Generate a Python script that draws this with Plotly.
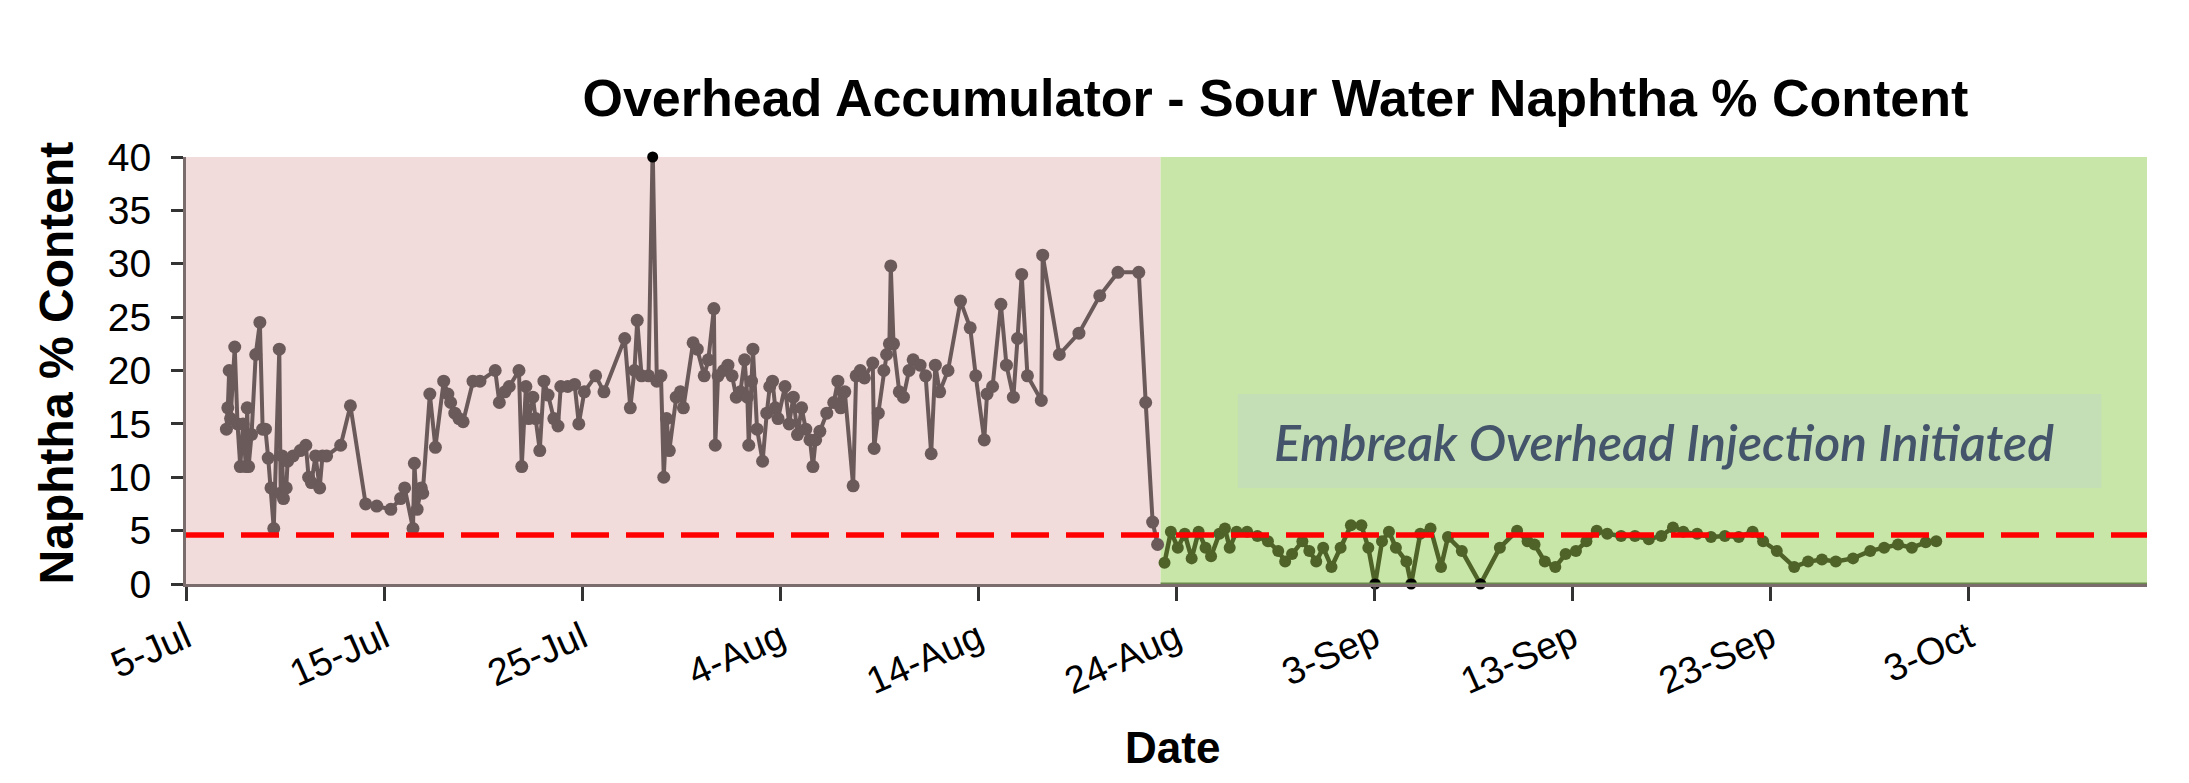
import pandas as pd
import plotly.graph_objects as go

# sample times are stored as days after 5-Jul
start = pd.Timestamp("2019-07-05")

pre_day = [2.04, 2.11, 2.18, 2.25, 2.46, 2.60, 2.74, 2.88, 3.02, 3.09, 3.16, 3.31, 3.52, 3.73, 3.87,
           4.01, 4.15, 4.29, 4.43, 4.71, 4.78, 4.85, 4.92, 5.06, 5.13, 5.41, 5.77, 6.05, 6.19, 6.33,
           6.54, 6.75, 6.89, 7.10, 7.81, 8.30, 9.07, 9.63, 10.34, 10.83, 11.04, 11.46, 11.53, 11.67,
           11.88, 11.95, 12.31, 12.59, 13.01, 13.22, 13.36, 13.57, 13.78, 13.99, 14.49, 14.84, 15.61,
           15.82, 16.10, 16.32, 16.81, 16.95, 17.16, 17.30, 17.51, 17.65, 17.86, 18.07, 18.28, 18.57,
           18.78, 18.92, 19.27, 19.62, 19.83, 20.11, 20.68, 21.10, 22.15, 22.43, 22.64, 22.78, 23.00,
           23.35, 23.56, 23.77, 23.98, 24.12, 24.26, 24.40, 24.75, 24.96, 25.11, 25.60, 25.81, 26.16,
           26.37, 26.65, 26.72, 26.86, 27.14, 27.36, 27.57, 27.78, 27.99, 28.20, 28.34, 28.41, 28.55,
           28.62, 28.83, 29.11, 29.32, 29.47, 29.61, 29.75, 29.89, 30.24, 30.45, 30.66, 30.87, 31.08,
           31.29, 31.50, 31.65, 31.79, 32.00, 32.35, 32.70, 32.91, 33.05, 33.26, 33.68, 33.83, 34.04,
           34.25, 34.67, 34.74, 34.95, 35.23, 35.37, 35.51, 35.58, 35.72, 36.01, 36.22, 36.50, 36.71,
           37.06, 37.34, 37.62, 37.83, 38.05, 38.47, 39.10, 39.59, 39.87, 40.30, 40.44, 40.72, 41.14,
           41.42, 41.77, 41.98, 42.19, 42.48, 43.18, 43.25, 44.09, 45.08, 46.13, 47.05, 48.10, 48.45,
           48.80, 49.05]
pre_val = [14.5, 16.5, 20, 15.5, 22.2, 15, 11, 15, 11, 16.5, 11, 14, 21.5, 24.5, 14.5,
           14.5, 11.8, 9, 5.2, 22, 8.5, 12, 8, 9, 11.5, 12, 12.5, 13, 10, 9.5,
           12, 9, 12, 12, 13, 16.7, 7.5, 7.3, 7, 8, 9, 5.2, 11.3, 7,
           9, 8.5, 17.8, 12.8, 19, 17.8, 17, 16, 15.5, 15.2, 19, 19, 20,
           17, 18, 18.5, 20, 11, 18.5, 15.5, 17.5, 15.5, 12.5, 19, 17.7, 15.5,
           14.8, 18.5, 18.5, 18.7, 15, 18, 19.5, 18, 23, 16.5, 20, 24.7, 19.5,
           19.5, 41, 19, 19.5, 10, 15.5, 12.5, 17.5, 18, 16.5, 22.6, 22, 19.5,
           21, 25.8, 13, 19.5, 20, 20.5, 19.5, 17.5, 18, 21, 17.5, 13, 19,
           22, 14.5, 11.5, 16, 18.5, 19, 16.5, 15.5, 18.5, 15, 17.5, 14, 16.5,
           14.5, 13.5, 11, 13.5, 14.3, 16, 17, 19, 16.5, 18, 9.2, 19.5, 20,
           19.3, 20.7, 12.7, 16, 20, 21.5, 22.5, 29.8, 22.5, 18, 17.5, 20, 21,
           20.5, 19.5, 12.2, 20.5, 18, 20, 26.5, 24, 19.5, 13.5, 17.8, 18.5, 26.2,
           20.5, 17.5, 23, 29, 19.5, 17.2, 30.8, 21.5, 23.5, 27, 29.2, 29.2, 17,
           5.8, 3.7]

post_day = [49.40, 49.72, 50.07, 50.42, 50.77, 51.12, 51.47, 51.75, 52.17, 52.45, 52.69, 53.04,
            53.57, 54.09, 54.62, 55.14, 55.49, 55.84, 56.36, 56.71, 57.06, 57.41, 57.83, 58.29,
            58.81, 59.34, 59.69, 60.03, 60.38, 60.73, 61.08, 61.61, 61.85, 62.31, 62.83, 63.36,
            63.71, 64.41, 65.35, 66.33, 67.20, 67.73, 68.08, 68.60, 69.13, 69.65, 70.17, 70.70,
            71.22, 71.75, 72.45, 73.15, 73.85, 74.48, 75.07, 75.59, 76.29, 76.99, 77.69, 78.39,
            79.09, 79.62, 80.31, 81.19, 81.89, 82.59, 83.29, 84.16, 85.03, 85.73, 86.43, 87.13,
            87.83, 88.36]
post_val = [2.0, 4.9, 3.4, 4.7, 2.4, 4.9, 3.4, 2.6, 4.7, 5.2, 3.4, 4.9,
            4.9, 4.5, 4.0, 3.1, 2.1, 2.8, 4.0, 3.1, 2.1, 3.4, 1.6, 3.4,
            5.5, 5.5, 3.4, 0, 4.0, 4.9, 3.4, 2.1, 0, 4.7, 5.2, 1.6,
            4.4, 3.1, 0, 3.4, 5.0, 4.0, 3.7, 2.1, 1.6, 2.8, 3.1, 4.0,
            5.0, 4.7, 4.5, 4.5, 4.2, 4.5, 5.3, 4.9, 4.7, 4.4, 4.5, 4.4,
            4.9, 4.0, 3.1, 1.6, 2.1, 2.3, 2.1, 2.4, 3.1, 3.4, 3.7, 3.4,
            3.9, 4.0]

# off-scale readings shown as black dots on the axis edges
edge_day = [23.56, 60.03, 61.85, 65.35]
edge_val = [40, 0, 0, 0]

limit_val = 4.6
switch_day = 49.2
axis_end_day = 99.0
tick_days = [0, 10, 20, 30, 40, 50, 60, 70, 80, 90]

def to_date(days):
    return start + pd.to_timedelta(days, unit="D")

pre_x = to_date(pre_day)
post_x = to_date(post_day)
edge_x = to_date(edge_day)

fig = go.Figure()

fig.add_trace(go.Scatter(x=pre_x, y=pre_val, mode="lines+markers",
                         line=dict(color="#6B5A5A", width=4),
                         marker=dict(color="#6B5A5A", size=13), name="Before"))
fig.add_trace(go.Scatter(x=post_x, y=post_val, mode="lines+markers",
                         line=dict(color="#4F6228", width=4.5),
                         marker=dict(color="#4F6228", size=12), name="After"))
fig.add_trace(go.Scatter(x=edge_x, y=edge_val, mode="markers", cliponaxis=False,
                         marker=dict(color="black", size=11), name="edge"))
fig.add_trace(go.Scatter(x=[to_date(0), to_date(axis_end_day)], y=[limit_val, limit_val],
                         mode="lines", line=dict(color="#FF0000", width=5.5, dash="38px,17px"),
                         name="Limit"))

# before / after backgrounds
fig.add_shape(type="rect", layer="below", x0=to_date(0), x1=to_date(switch_day), y0=0, y1=40,
              fillcolor="#F2DCDB", line=dict(width=0))
fig.add_shape(type="rect", layer="below", x0=to_date(switch_day), x1=to_date(axis_end_day), y0=0, y1=40.2,
              fillcolor="#C8E6A7", line=dict(width=0))
fig.add_shape(type="rect", layer="below", x0=to_date(53.1), x1=to_date(96.7), y0=9.0, y1=17.8,
              fillcolor="#C4DFB5", line=dict(width=0))
fig.add_shape(type="line", x0=to_date(switch_day), x1=to_date(axis_end_day), y0=0, y1=0,
              line=dict(color="#6B8A4E", width=3))

fig.add_annotation(x=to_date(74.6), y=13.3, text="<i>Embreak Overhead Injection Initiated</i>",
                   showarrow=False, font=dict(family="Lato", size=50, color="#44546A", weight=600))

fig.add_annotation(xref="paper", yref="paper", x=-0.066, y=0.518, textangle=-90,
                   xanchor="center", yanchor="middle",
                   text="<b>Naphtha % Content</b>", showarrow=False,
                   font=dict(family="Liberation Sans", size=48, color="black"))
fig.add_annotation(xref="paper", yref="paper", x=0.503, y=-0.382,
                   xanchor="center", yanchor="middle",
                   text="<b>Date</b>", showarrow=False,
                   font=dict(family="Liberation Sans", size=44, color="black"))

fig.update_layout(
    width=2189, height=783,
    margin=dict(l=178, r=50, t=149, b=207),
    paper_bgcolor="white", plot_bgcolor="white",
    showlegend=False,
    title=dict(text="<b>Overhead Accumulator - Sour Water Naphtha % Content</b>",
               x=0.579, xanchor="center", y=0.885, yanchor="middle",
               font=dict(family="Liberation Sans", size=52, color="black")),
    font=dict(family="Liberation Sans", color="black"),
)

fig.update_xaxes(range=[to_date(0), to_date(axis_end_day)], automargin=False,
                 tickvals=to_date(tick_days), tickformat="%-d-%b", tickangle=-24,
                 tickfont=dict(size=38, color="black"),
                 showgrid=False, zeroline=False,
                 showline=True, linecolor="#7A6C6C", linewidth=3,
                 ticks="outside", ticklen=14, tickwidth=3, tickcolor="#333333")
fig.update_yaxes(range=[0, 40], dtick=5, automargin=False, ticklabelstandoff=12,
                 tickfont=dict(size=39, color="black"),
                 showgrid=False, zeroline=False,
                 showline=True, linecolor="#7A6C6C", linewidth=3,
                 ticks="outside", ticklen=12, tickwidth=3, tickcolor="#333333")

fig.write_html("out.html")
